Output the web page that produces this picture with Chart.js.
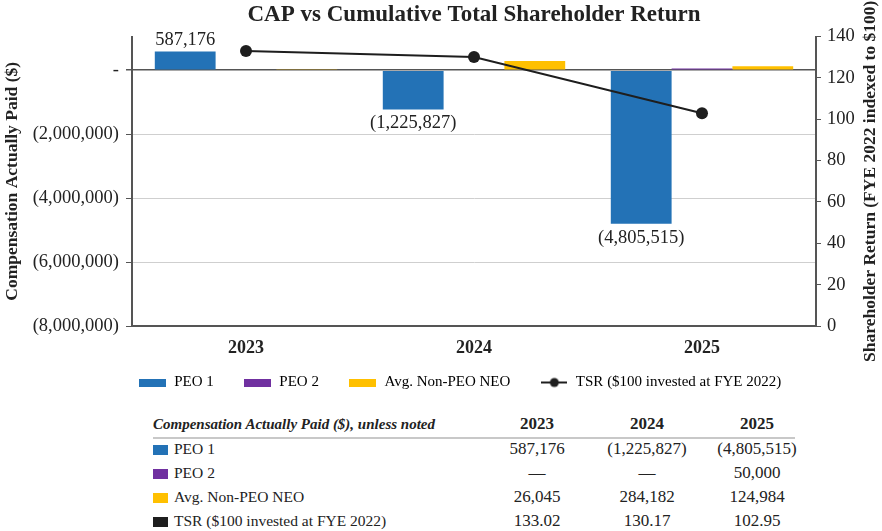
<!DOCTYPE html>
<html>
<head>
<meta charset="utf-8">
<script src="https://cdn.jsdelivr.net/npm/chart.js@4.4.1/dist/chart.umd.min.js"></script>
<style>
  html, body { margin: 0; padding: 0; background: #fff; }
  #wrap { position: relative; width: 882px; height: 531px; overflow: hidden;
          font-family: "Liberation Serif", "Times New Roman", serif; color: #222; }
  #chartBox { position: absolute; left: 0; top: 0; width: 882px; height: 411px; }
  #rule { position: absolute; left: 153px; top: 437px; width: 642px; height: 2px; background: #c8c8c8; }
  #capTable { position: absolute; left: 153px; top: 411px; border-collapse: collapse; }
  #capTable td { padding: 0; height: 24px; line-height: 24px; white-space: nowrap; }
  #capTable tr.head td { height: 26px; line-height: 26px; font-weight: bold; font-size: 17px; text-align: center; }
  #capTable tr.head td.lbl { font-style: italic; font-size: 15px; text-align: left; }
  #capTable td.lbl { width: 329px; font-size: 15.5px; }
  #capTable td.num { width: 110px; text-align: center; font-size: 17px; }
  .sw { display: inline-block; width: 15px; height: 10px; margin-right: 6px; vertical-align: -1px; }
</style>
</head>
<body>
<div id="wrap">
  <div id="chartBox"><canvas id="capChart"></canvas></div>
  <table id="capTable"></table>
  <div id="rule"></div>
</div>
<script>
var years = ['2023', '2024', '2025'];
var peo1 = [587176, -1225827, -4805515];
var peo2 = [null, null, 50000];
var avgNeo = [26045, 284182, 124984];
var tsr = [133.02, 130.17, 102.95];
var capTicks = [-8000000, -6000000, -4000000, -2000000, 0];
var seriesNames = ['PEO 1', 'PEO 2', 'Avg. Non-PEO NEO', 'TSR ($100 invested at FYE 2022)'];
var seriesColors = ['#2372b6', '#7030a0', '#ffc000', '#1e1e1e'];

var serif = '"Liberation Serif", "Times New Roman", serif';
Chart.defaults.font.family = serif;
Chart.defaults.color = '#222';

function fmtMoney(v) {
    if (v == null) return '\u2014';
    var s = Math.abs(v).toLocaleString('en-US');
    return v < 0 ? '(' + s + ')' : s;
}

// legend icons: flat swatch for bars, line with dot for TSR
function swatch(color) {
    var c = document.createElement('canvas');
    c.width = 27; c.height = 8;
    var g = c.getContext('2d');
    g.fillStyle = color;
    g.fillRect(0, 0, 27, 8);
    return c;
}
function lineMarker(color) {
    var c = document.createElement('canvas');
    c.width = 26; c.height = 12;
    var g = c.getContext('2d');
    g.strokeStyle = color; g.fillStyle = color; g.lineWidth = 2;
    g.beginPath(); g.moveTo(0, 6); g.lineTo(26, 6); g.stroke();
    g.beginPath(); g.arc(13, 6, 4.5, 0, Math.PI * 2); g.fill();
    return c;
}
var legendIcons = [swatch(seriesColors[0]), swatch(seriesColors[1]), swatch(seriesColors[2]), lineMarker(seriesColors[3])];

var barLabels = {
    id: 'barLabels',
    afterDatasetsDraw: function (chart) {
        var ctx = chart.ctx;
        var meta = chart.getDatasetMeta(0);
        ctx.save();
        ctx.font = '18.5px ' + serif;
        ctx.fillStyle = '#222';
        ctx.textAlign = 'center';
        meta.data.forEach(function (bar, i) {
            var v = peo1[i];
            if (v >= 0) {
                ctx.textBaseline = 'bottom';
                ctx.fillText(fmtMoney(v), bar.x, bar.y - 2);
            } else {
                ctx.textBaseline = 'top';
                ctx.fillText(fmtMoney(v), bar.x, bar.y + 5);
            }
        });
        ctx.restore();
    }
};

// right axis title reads bottom-to-top like the left one
var rightTitle = {
    id: 'rightTitle',
    afterDraw: function (chart) {
        var ctx = chart.ctx;
        var a = chart.chartArea;
        ctx.save();
        ctx.translate(870, (a.top + a.bottom) / 2);
        ctx.rotate(-Math.PI / 2);
        ctx.font = 'bold 17.5px ' + serif;
        ctx.fillStyle = '#222';
        ctx.textAlign = 'center';
        ctx.textBaseline = 'middle';
        ctx.fillText('Shareholder Return (FYE 2022 indexed to $100)', 0, 0);
        ctx.restore();
    }
};

// title centred over the plot, legend nudged right and up
var placeBoxes = {
    id: 'placeBoxes',
    afterLayout: function (chart) {
        var a = chart.chartArea;
        chart.titleBlock.left = a.left;
        chart.titleBlock.right = a.right;
        chart.legend.left = 38;
        chart.legend.right = chart.width;
        chart.legend.top -= 11;
        chart.legend.bottom -= 11;
    }
};

var chart = new Chart(document.getElementById('capChart').getContext('2d'), {
    type: 'bar',
    data: {
        labels: years,
        datasets: [
            { label: seriesNames[0], data: peo1, backgroundColor: seriesColors[0], yAxisID: 'y', order: 1 },
            { label: seriesNames[1], data: peo2, backgroundColor: seriesColors[1], yAxisID: 'y', order: 1 },
            { label: seriesNames[2], data: avgNeo, backgroundColor: seriesColors[2], yAxisID: 'y', order: 1 },
            {
                type: 'line',
                label: seriesNames[3],
                data: tsr,
                yAxisID: 'y1',
                order: 0,
                borderColor: seriesColors[3],
                backgroundColor: seriesColors[3],
                borderWidth: 2,
                pointRadius: 6,
                pointBackgroundColor: seriesColors[3],
                pointBorderWidth: 0,
                tension: 0
            }
        ]
    },
    options: {
        responsive: true,
        maintainAspectRatio: false,
        animation: false,
        datasets: {
            bar: { categoryPercentage: 0.8, barPercentage: 1.0, borderWidth: 0 }
        },
        layout: { padding: 0 },
        plugins: {
            title: {
                display: true,
                text: 'CAP vs Cumulative Total Shareholder Return',
                font: { size: 23, weight: 'bold' },
                color: '#222',
                padding: { top: 1, bottom: 8 }
            },
            legend: {
                position: 'bottom',
                labels: {
                    usePointStyle: true,
                    pointStyleWidth: 28,
                    padding: 30,
                    font: { size: 15 },
                    color: '#222',
                    generateLabels: function (chart) {
                        return chart.data.datasets.map(function (ds, i) {
                            return {
                                text: ds.label,
                                pointStyle: legendIcons[i],
                                fillStyle: seriesColors[i],
                                strokeStyle: seriesColors[i],
                                lineWidth: 0,
                                hidden: !chart.isDatasetVisible(i),
                                datasetIndex: i
                            };
                        });
                    }
                }
            },
            tooltip: { enabled: false }
        },
        scales: {
            x: {
                grid: { display: false },
                border: { display: true, color: '#555', width: 2 },
                ticks: { font: { size: 18, weight: 'bold' }, color: '#222', padding: 4 },
                afterFit: function (scale) { scale.height = 30; }
            },
            y: {
                position: 'left',
                min: -8000000,
                max: 1050000,
                afterBuildTicks: function (scale) {
                    scale.ticks = capTicks.map(function (v) { return { value: v }; });
                },
                ticks: {
                    font: { size: 18.5 },
                    color: '#222',
                    padding: 7,
                    callback: function (v) { return v === 0 ? '-' : fmtMoney(v); }
                },
                grid: {
                    color: function (c) { return c.tick && c.tick.value === 0 ? '#555' : '#cfcfcf'; },
                    lineWidth: function (c) { return c.tick && c.tick.value === 0 ? 1.5 : 1; },
                    tickColor: '#555',
                    tickLength: 6
                },
                border: { display: true, color: '#555', width: 2 },
                title: {
                    display: true,
                    text: 'Compensation Actually Paid ($)',
                    font: { size: 17.5, weight: 'bold' },
                    color: '#222',
                    padding: { top: 2, bottom: 0 }
                },
                afterFit: function (scale) { scale.width = 132; }
            },
            y1: {
                position: 'right',
                min: 0,
                max: 140,
                ticks: { stepSize: 20, font: { size: 18.5 }, color: '#222', padding: 6 },
                grid: { drawOnChartArea: false, tickColor: '#555', tickLength: 5 },
                border: { display: true, color: '#555', width: 2 },
                afterFit: function (scale) { scale.width = 66; }
            }
        }
    },
    plugins: [barLabels, rightTitle, placeBoxes]
});

// table under the chart, built from the same arrays
var table = document.getElementById('capTable');
var rows = '<tr class="head"><td class="lbl">Compensation Actually Paid ($), unless noted</td>' +
    years.map(function (y) { return '<td class="num">' + y + '</td>'; }).join('') + '</tr>';
var tableSeries = [peo1, peo2, avgNeo, tsr];
tableSeries.forEach(function (vals, i) {
    rows += '<tr><td class="lbl"><span class="sw" style="background:' + seriesColors[i] + '"></span>' + seriesNames[i] + '</td>';
    vals.forEach(function (v) {
        var txt = i === 3 ? v.toFixed(2) : fmtMoney(v);
        rows += '<td class="num">' + txt + '</td>';
    });
    rows += '</tr>';
});
table.innerHTML = rows;
</script>
</body>
</html>
